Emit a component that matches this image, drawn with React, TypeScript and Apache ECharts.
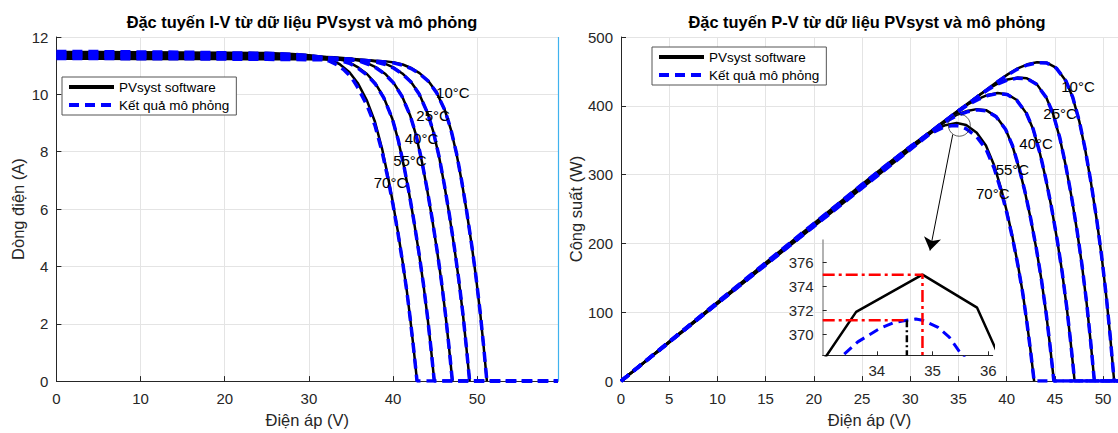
import React, { useEffect, useRef } from 'react';
import * as echarts from 'echarts';

// ---------- data ----------
const TEMPS = ['10°C', '25°C', '40°C', '55°C', '70°C'];

// PVsyst software (black) – voltage (V), current (A), power (W)
const V_PV_10 = [0, 5, 10, 15, 20, 25, 30, 34, 37, 39.15, 40.15, 41.15, 42.15, 43.15, 44.15, 45.15, 46.15, 46.85, 47.55, 48.15, 48.75, 49.35, 49.85, 50.35, 50.75, 51.15];
const I_PV_10 = [11.24, 11.24, 11.23, 11.23, 11.23, 11.22, 11.22, 11.21, 11.19, 11.15, 11.11, 11.04, 10.92, 10.74, 10.48, 10.08, 9.45, 8.8, 7.92, 6.98, 5.91, 4.73, 3.64, 2.4, 1.25, 0];
const P_PV_10 = [0, 56.2, 112.3, 168.5, 224.6, 280.5, 336.6, 381.1, 414.0, 436.5, 446.1, 454.3, 460.3, 463.4, 462.7, 455.1, 436.1, 412.3, 376.6, 336.1, 288.1, 233.4, 181.5, 120.8, 63.4, 0];

const V_PV_25 = [0, 5, 10, 15, 20, 25, 30, 35, 37.1, 38.1, 39.1, 40.1, 41.1, 42.1, 43.1, 44.1, 44.8, 45.5, 46.1, 46.7, 47.3, 47.8, 48.3, 48.7, 49.1];
const I_PV_25 = [11.3, 11.3, 11.29, 11.29, 11.28, 11.28, 11.27, 11.24, 11.19, 11.14, 11.06, 10.93, 10.73, 10.45, 10.02, 9.35, 8.68, 7.78, 6.83, 5.78, 4.62, 3.55, 2.34, 1.21, 0];
const P_PV_25 = [0, 56.5, 112.9, 169.4, 225.6, 282.0, 338.1, 393.4, 415.1, 424.4, 432.4, 438.3, 441.0, 439.9, 431.9, 412.3, 388.9, 354.0, 314.9, 269.9, 218.5, 169.7, 113.0, 58.9, 0];

const V_PV_40 = [0, 5, 10, 15, 20, 25, 30, 33, 35.05, 36.05, 37.05, 38.05, 39.05, 40.05, 41.05, 42.05, 42.75, 43.45, 44.05, 44.65, 45.25, 45.75, 46.25, 46.65, 47.05];
const I_PV_40 = [11.36, 11.36, 11.35, 11.35, 11.34, 11.33, 11.32, 11.29, 11.24, 11.17, 11.07, 10.93, 10.72, 10.41, 9.95, 9.25, 8.56, 7.62, 6.68, 5.65, 4.51, 3.47, 2.27, 1.18, 0];
const P_PV_40 = [0, 56.8, 113.5, 170.3, 226.8, 283.3, 339.6, 372.6, 394.0, 402.7, 410.1, 415.9, 418.6, 416.9, 408.4, 389.0, 365.9, 331.1, 294.3, 252.3, 204.1, 158.8, 105.0, 55.0, 0];

const V_PV_55 = [0, 5, 10, 15, 20, 25, 28, 30, 32.9, 33.9, 34.9, 35.9, 36.9, 37.9, 38.9, 39.9, 40.6, 41.3, 41.9, 42.5, 43.1, 43.6, 44.1, 44.5, 44.9];
const I_PV_55 = [11.42, 11.42, 11.41, 11.41, 11.4, 11.39, 11.38, 11.36, 11.27, 11.2, 11.1, 10.93, 10.71, 10.38, 9.89, 9.16, 8.42, 7.48, 6.56, 5.54, 4.42, 3.39, 2.22, 1.15, 0];
const P_PV_55 = [0, 57.1, 114.1, 171.2, 228.0, 284.8, 318.6, 340.8, 370.8, 379.7, 387.4, 392.4, 395.2, 393.4, 384.7, 365.5, 341.9, 308.9, 274.9, 235.5, 190.5, 147.8, 97.9, 51.2, 0];

const V_PV_70 = [0, 5, 10, 15, 20, 25, 28, 30, 31.3, 32.45, 33.63, 34.82, 35.8, 36.9, 37.85, 38.7, 39.4, 40.0, 40.6, 41.15, 41.65, 42.05, 42.45, 42.85];
const I_PV_70 = [11.48, 11.48, 11.47, 11.46, 11.45, 11.44, 11.41, 11.36, 11.28, 11.21, 11.058, 10.77, 10.398, 9.78, 9.045, 8.1, 7.13, 6.19, 5.17, 4.14, 3.12, 2.16, 1.12, 0];
const P_PV_70 = [0, 57.4, 114.7, 171.9, 229.0, 286.0, 319.5, 340.8, 353.1, 363.8, 371.9, 375.0, 372.25, 360.9, 342.4, 313.5, 280.9, 247.6, 209.9, 170.4, 129.9, 90.8, 47.5, 0];

// Simulation results (blue dashed)
const V_SIM_10 = [0, 5, 10, 15, 20, 25, 30, 34, 37, 39.15, 40.15, 41.15, 42.15, 43.15, 44.15, 45.15, 46.15, 46.85, 47.55, 48.15, 48.75, 49.35, 49.85, 50.35, 50.75, 51.15, 59.6];
const I_SIM_10 = [11.25, 11.25, 11.24, 11.24, 11.23, 11.22, 11.21, 11.2, 11.17, 11.13, 11.09, 11.02, 10.9, 10.72, 10.47, 10.07, 9.45, 8.81, 7.93, 6.99, 5.92, 4.74, 3.65, 2.41, 1.26, 0, 0];
const P_SIM_10 = [0, 56.3, 112.4, 168.6, 224.6, 280.5, 336.3, 380.8, 413.3, 435.7, 445.3, 453.5, 459.4, 462.6, 462.3, 454.7, 436.1, 412.7, 377.1, 336.6, 288.6, 233.9, 182.0, 121.3, 63.9, 0, 0];

const V_SIM_25 = [0, 5, 10, 15, 20, 25, 30, 35, 37.1, 38.1, 39.1, 40.1, 41.1, 42.1, 43.1, 44.1, 44.8, 45.5, 46.1, 46.7, 47.3, 47.8, 48.3, 48.7, 49.1, 59.6];
const I_SIM_25 = [11.31, 11.31, 11.3, 11.29, 11.28, 11.27, 11.26, 11.22, 11.17, 11.12, 11.04, 10.91, 10.71, 10.44, 10.01, 9.35, 8.69, 7.79, 6.84, 5.79, 4.63, 3.56, 2.35, 1.22, 0, 0];
const P_SIM_25 = [0, 56.6, 113.0, 169.4, 225.6, 281.8, 337.8, 392.7, 414.4, 423.7, 431.7, 437.5, 440.2, 439.5, 431.4, 412.3, 389.3, 354.4, 315.3, 270.4, 219.0, 170.2, 113.5, 59.4, 0, 0];

const V_SIM_40 = [0, 5, 10, 15, 20, 25, 30, 33, 35.05, 36.05, 37.05, 38.05, 39.05, 40.05, 41.05, 42.05, 42.75, 43.45, 44.05, 44.65, 45.25, 45.75, 46.25, 46.65, 47.05, 59.6];
const I_SIM_40 = [11.37, 11.37, 11.36, 11.35, 11.34, 11.33, 11.31, 11.27, 11.22, 11.15, 11.05, 10.91, 10.7, 10.4, 9.94, 9.25, 8.57, 7.63, 6.69, 5.66, 4.52, 3.48, 2.28, 1.19, 0, 0];
const P_SIM_40 = [0, 56.9, 113.6, 170.3, 226.8, 283.3, 339.3, 371.9, 393.3, 402.0, 409.4, 415.1, 417.8, 416.5, 408.0, 389.0, 366.4, 331.5, 294.7, 252.7, 204.5, 159.2, 105.5, 55.5, 0, 0];

const V_SIM_55 = [0, 5, 10, 15, 20, 25, 28, 30, 32.9, 33.9, 34.9, 35.9, 36.9, 37.9, 38.9, 39.9, 40.6, 41.3, 41.9, 42.5, 43.1, 43.6, 44.1, 44.5, 44.9, 59.6];
const I_SIM_55 = [11.43, 11.43, 11.42, 11.41, 11.4, 11.39, 11.37, 11.35, 11.25, 11.17, 11.07, 10.9, 10.68, 10.36, 9.88, 9.16, 8.43, 7.49, 6.57, 5.55, 4.43, 3.4, 2.23, 1.16, 0, 0];
const P_SIM_55 = [0, 57.2, 114.2, 171.2, 228.0, 284.8, 318.4, 340.5, 370.1, 378.7, 386.3, 391.3, 394.1, 392.6, 384.3, 365.5, 342.3, 309.3, 275.3, 235.9, 190.9, 148.2, 98.3, 51.6, 0, 0];

const V_SIM_70 = [0, 5, 10, 15, 20, 25, 28, 30, 31.3, 32.45, 33.4, 33.66, 34.05, 34.3, 34.54, 34.7, 34.82, 35.1, 35.3, 35.48, 35.7, 36.0, 36.9, 37.85, 38.7, 39.4, 40.0, 40.6, 41.15, 41.65, 42.05, 42.45, 42.85, 59.6];
const I_SIM_70 = [11.49, 11.49, 11.48, 11.47, 11.45, 11.43, 11.4, 11.35, 11.27, 11.16, 11.027, 10.974, 10.882, 10.816, 10.746, 10.699, 10.66, 10.558, 10.477, 10.39, 10.291, 10.13, 9.62, 8.917, 8.0, 7.056, 6.14, 5.135, 4.12, 3.11, 2.155, 1.115, 0, 0];
const P_SIM_70 = [0, 57.5, 114.8, 172.1, 229.0, 285.8, 319.2, 340.5, 352.8, 362.1, 368.3, 369.4, 370.5, 371.0, 371.2, 371.3, 371.2, 370.6, 369.8, 368.6, 367.4, 364.7, 355.0, 337.5, 309.6, 278.0, 245.6, 208.5, 169.5, 129.5, 90.6, 47.3, 0, 0];

// maximum power points shown in the inset (V, W)
const MPP_PVSYST_70 = [34.82, 375.0];
const MPP_SIM_70 = [34.54, 371.2];

// annotation anchors (data coordinates)
const LABEL_POS_IV = [[47.1, 10.05], [44.76, 9.26], [43.38, 8.47], [42.0, 7.68], [39.7, 6.93]];
const LABEL_POS_PV = [[47.4, 428.2], [45.54, 388.7], [43.05, 344.9], [40.6, 306.8], [38.56, 272.3]];
const ZOOM_CIRCLE = [35.09, 371.8];
const ZOOM_ARROW = [[34.41, 358.4], [32.05, 189.7]];

// axis ranges
const IV_X_MAX = 59.6;
const PV_X_MAX = 51.55;
const INSET_X = [33.03, 36.08];
const INSET_Y = [368.28, 377.89];

const LEGEND_NAMES = ['PVsyst software', 'Kết quả mô phỏng'];

// ---------- styling ----------
const FONT = '"Liberation Sans", Arial, Helvetica, sans-serif';
const TXT = '#262626';
const GRID_C = '#e4e4e4';
const BLUE = '#0000ff';
const DASH = [10, 6];

const pairs = (xs: number[], ys: number[]) => xs.map((x, i) => [x, ys[i]]);

const PV_SETS = [
  { v: V_PV_10, i: I_PV_10, p: P_PV_10 },
  { v: V_PV_25, i: I_PV_25, p: P_PV_25 },
  { v: V_PV_40, i: I_PV_40, p: P_PV_40 },
  { v: V_PV_55, i: I_PV_55, p: P_PV_55 },
  { v: V_PV_70, i: I_PV_70, p: P_PV_70 },
];
const SIM_SETS = [
  { v: V_SIM_10, i: I_SIM_10, p: P_SIM_10 },
  { v: V_SIM_25, i: I_SIM_25, p: P_SIM_25 },
  { v: V_SIM_40, i: I_SIM_40, p: P_SIM_40 },
  { v: V_SIM_55, i: I_SIM_55, p: P_SIM_55 },
  { v: V_SIM_70, i: I_SIM_70, p: P_SIM_70 },
];

const axisBase = (extra: any) => ({
  type: 'value',
  axisLine: { show: true, onZero: false, lineStyle: { color: TXT, width: 1 } },
  axisTick: { show: true, inside: true, length: 5, lineStyle: { color: TXT } },
  axisLabel: { color: TXT, fontSize: 15, fontFamily: FONT, margin: 8 },
  splitLine: { show: true, lineStyle: { color: GRID_C, width: 1 } },
  nameTextStyle: { color: TXT, fontSize: 16.5, fontFamily: FONT },
  ...extra,
});

function buildOption() {
  const series: any[] = [];
  const lineBase = {
    type: 'line', symbol: 'none', showSymbol: false, silent: true,
    emphasis: { disabled: true }, itemStyle: { opacity: 0 },
  };

  // I-V chart (grid 0)
  PV_SETS.forEach((s, k) => {
    const item: any = {
      ...lineBase, name: LEGEND_NAMES[0], xAxisIndex: 0, yAxisIndex: 0,
      data: pairs(s.v, s.i), lineStyle: { color: '#000', width: 2.5 }, z: 3,
    };
    if (k === 0) {
      item.markLine = {
        silent: true, symbol: ['none', 'none'], label: { show: false },
        lineStyle: { color: '#3fb2ee', width: 1.2, type: 'solid' },
        data: [{ xAxis: IV_X_MAX }],
      };
    }
    series.push(item);
  });
  SIM_SETS.forEach((s) => {
    series.push({
      ...lineBase, name: LEGEND_NAMES[1], xAxisIndex: 0, yAxisIndex: 0,
      data: pairs(s.v, s.i), lineStyle: { color: BLUE, width: 3.5, type: DASH }, z: 4,
    });
  });
  // P-V chart (grid 1)
  PV_SETS.forEach((s) => {
    series.push({
      ...lineBase, name: LEGEND_NAMES[0], xAxisIndex: 1, yAxisIndex: 1,
      data: pairs(s.v, s.p), lineStyle: { color: '#000', width: 2.5 }, z: 3,
    });
  });
  SIM_SETS.forEach((s) => {
    series.push({
      ...lineBase, name: LEGEND_NAMES[1], xAxisIndex: 1, yAxisIndex: 1,
      data: pairs(s.v, s.p), lineStyle: { color: BLUE, width: 3.5, type: DASH }, z: 4,
    });
  });

  // temperature labels
  const labelSeries = (xi: number, pos: number[][]) => ({
    type: 'scatter', name: 'temp-labels', xAxisIndex: xi, yAxisIndex: xi, silent: true,
    symbol: 'circle', symbolSize: 1, itemStyle: { color: 'rgba(0,0,0,0)' }, z: 6,
    emphasis: { disabled: true },
    label: {
      show: true, position: 'inside', formatter: '{b}', color: '#000', opacity: 1,
      textBorderWidth: 0, fontSize: 15, fontFamily: FONT,
    },
    data: pos.map((p, k) => ({ name: TEMPS[k], value: p })),
  });
  series.push(labelSeries(0, LABEL_POS_IV));
  series.push(labelSeries(1, LABEL_POS_PV));

  // zoom circle + arrow in P-V chart
  series.push({
    type: 'scatter', name: 'zoom-circle', xAxisIndex: 1, yAxisIndex: 1, silent: true,
    symbol: 'circle', symbolSize: 22, emphasis: { disabled: true }, z: 7,
    itemStyle: { color: 'rgba(0,0,0,0)', borderColor: '#222', borderWidth: 0.9 },
    data: [ZOOM_CIRCLE],
  });
  series.push({
    type: 'lines', name: 'zoom-arrow', coordinateSystem: 'cartesian2d', xAxisIndex: 1, yAxisIndex: 1,
    silent: true, symbol: ['none', 'arrow'], symbolSize: [9, 13], z: 7,
    lineStyle: { color: '#000', width: 1, opacity: 1 },
    data: [{ coords: ZOOM_ARROW }],
  });

  // inset (grid 2)
  series.push({
    ...lineBase, name: 'inset-pvsyst', xAxisIndex: 2, yAxisIndex: 2,
    data: pairs(V_PV_70, P_PV_70), lineStyle: { color: '#000', width: 2.5 }, z: 5,
  });
  series.push({
    ...lineBase, name: 'inset-sim', xAxisIndex: 2, yAxisIndex: 2,
    data: pairs(V_SIM_70, P_SIM_70), lineStyle: { color: BLUE, width: 3, type: DASH }, z: 5,
  });
  series.push({
    ...lineBase, name: 'inset-mpp-pvsyst', xAxisIndex: 2, yAxisIndex: 2,
    data: [[INSET_X[0], MPP_PVSYST_70[1]], MPP_PVSYST_70, [MPP_PVSYST_70[0], INSET_Y[0]]],
    lineStyle: { color: '#ff0000', width: 2.5, type: [12, 4, 3, 4] }, z: 6,
  });
  series.push({
    ...lineBase, name: 'inset-mpp-sim-h', xAxisIndex: 2, yAxisIndex: 2,
    data: [[INSET_X[0], MPP_SIM_70[1]], MPP_SIM_70],
    lineStyle: { color: '#ff0000', width: 2.5, type: [12, 4, 3, 4] }, z: 6,
  });
  series.push({
    ...lineBase, name: 'inset-mpp-sim-v', xAxisIndex: 2, yAxisIndex: 2,
    data: [MPP_SIM_70, [MPP_SIM_70[0], INSET_Y[0]]],
    lineStyle: { color: '#000', width: 2.5, type: [7, 3, 2, 3] }, z: 6,
  });

  const legendBase = {
    orient: 'vertical', data: LEGEND_NAMES, itemWidth: 45, itemHeight: 14, itemGap: 4,
    borderColor: '#555', borderWidth: 1, backgroundColor: '#fff', borderRadius: 0,
    padding: [3, 7, 3, 5], selectedMode: false,
    textStyle: { color: '#000', fontSize: 13.5, fontFamily: FONT },
    lineStyle: { width: 4 },
    itemStyle: { opacity: 0, color: 'rgba(0,0,0,0)', borderWidth: 0 },
  };

  return {
    animation: false,
    backgroundColor: '#fff',
    textStyle: { fontFamily: FONT },
    graphic: [
      {
        type: 'text', x: 302, y: 22, silent: true,
        style: { text: 'Đặc tuyến I-V từ dữ liệu PVsyst và mô phỏng', font: `bold 16.4px ${FONT}`, fill: '#000', align: 'center', verticalAlign: 'middle', textAlign: 'center', textVerticalAlign: 'middle' },
      },
      {
        type: 'text', x: 867, y: 22, silent: true,
        style: { text: 'Đặc tuyến P-V từ dữ liệu PVsyst và mô phỏng', font: `bold 16.4px ${FONT}`, fill: '#000', align: 'center', verticalAlign: 'middle', textAlign: 'center', textVerticalAlign: 'middle' },
      },
    ],
    legend: [
      { ...legendBase, left: 62, top: 77 },
      { ...legendBase, left: 652, top: 47 },
    ],
    grid: [
      { left: 56.4, top: 37, width: 501.6, height: 346 },
      { left: 621, top: 37, width: 497, height: 346 },
      { left: 822.7, top: 240, width: 170, height: 115.3 },
    ],
    xAxis: [
      axisBase({ gridIndex: 0, min: 0, max: IV_X_MAX, interval: 10, name: 'Điện áp (V)', nameLocation: 'middle', nameGap: 26,
        axisLabel: { color: TXT, fontSize: 15, fontFamily: FONT, margin: 10, showMaxLabel: false } }),
      axisBase({ gridIndex: 1, min: 0, max: PV_X_MAX, interval: 5, name: 'Điện áp (V)', nameLocation: 'middle', nameGap: 26,
        axisLabel: { color: TXT, fontSize: 15, fontFamily: FONT, margin: 10, showMaxLabel: false } }),
      axisBase({ gridIndex: 2, min: INSET_X[0], max: INSET_X[1], splitNumber: 3,
        axisTick: { show: true, inside: true, length: 4, lineStyle: { color: TXT } },
        axisLabel: { color: TXT, fontSize: 15, fontFamily: FONT, margin: 8, showMinLabel: false, showMaxLabel: false },
        splitLine: { show: false } }),
    ],
    yAxis: [
      axisBase({ gridIndex: 0, min: 0, max: 12, interval: 2, name: 'Dòng điện (A)', nameLocation: 'middle', nameGap: 30 }),
      axisBase({ gridIndex: 1, min: 0, max: 500, interval: 100, name: 'Công suất (W)', nameLocation: 'middle', nameGap: 35 }),
      axisBase({ gridIndex: 2, min: INSET_Y[0], max: INSET_Y[1], splitNumber: 5,
        axisLine: { show: true, onZero: false, lineStyle: { color: '#999', width: 1.5 } },
        axisTick: { show: true, inside: true, length: 4, lineStyle: { color: TXT } },
        axisLabel: { color: TXT, fontSize: 15, fontFamily: FONT, margin: 9, showMinLabel: false, showMaxLabel: false },
        splitLine: { show: false } }),
    ],
    series,
  };
}

export default function App() {
  const ref = useRef<HTMLDivElement>(null);
  useEffect(() => {
    if (!ref.current) return;
    const chart = echarts.init(ref.current, null, { renderer: 'svg' });
    chart.setOption(buildOption() as any);
    return () => chart.dispose();
  }, []);
  return (
    <div
      ref={ref}
      style={{ position: 'fixed', left: 0, top: 0, width: 1118, height: 433, background: '#fff' }}
    />
  );
}
